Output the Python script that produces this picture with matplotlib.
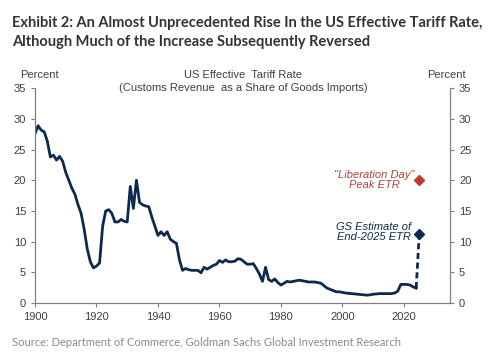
import numpy as np
import matplotlib
matplotlib.use('Agg')
import matplotlib.pyplot as plt

years = np.arange(1900, 2025)
etr = [27.6, 28.9, 28.2, 27.9, 26.4, 23.8, 24.1, 23.3, 23.9, 23.1,
       21.3, 20.0, 18.7, 17.7, 16.0, 14.6, 12.0, 8.8, 6.7, 5.7,
       6.0, 6.5, 12.5, 15.0, 15.2, 14.6, 13.2, 13.2, 13.6, 13.3,
       13.2, 19.0, 15.4, 20.0, 16.4, 16.0, 15.8, 15.7, 14.0, 12.5,
       11.0, 11.6, 11.0, 11.6, 10.4, 10.0, 9.7, 7.0, 5.3, 5.6,
       5.4, 5.3, 5.3, 5.3, 4.9, 5.8, 5.5, 5.8, 6.1, 6.3,
       6.9, 6.6, 7.0, 6.7, 6.7, 6.8, 7.2, 7.1, 6.7, 6.3,
       6.3, 6.4, 5.6, 4.7, 3.5, 5.8, 3.8, 3.5, 3.9, 3.3,
       2.9, 3.2, 3.5, 3.4, 3.5, 3.6, 3.7, 3.6, 3.5, 3.4,
       3.4, 3.4, 3.3, 3.2, 2.8, 2.4, 2.2, 2.0, 1.8, 1.8,
       1.7, 1.6, 1.55, 1.5, 1.45, 1.4, 1.35, 1.3, 1.25, 1.3,
       1.4, 1.45, 1.5, 1.5, 1.5, 1.5, 1.5, 1.6, 1.9, 3.0,
       3.0, 3.0, 2.9, 2.6, 2.4]

est_year = 2025
gs_estimate = 11.3
liberation_peak = 20.0

navy = '#0d2a4d'
red = '#b5403a'
gray = '#404040'

fig = plt.figure(figsize=(5, 3.55), dpi=100)
ax = fig.add_axes([0.07, 0.147, 0.83, 0.604])

ax.plot(years, etr, c=navy, lw=2.0, solid_joinstyle='round')
ax.plot([years[-1], est_year], [etr[-1], gs_estimate], c=navy, lw=2.0, ls=(0, (2.2, 1.3)))
ax.plot(est_year, gs_estimate, marker='D', ms=5.5, c=navy)
ax.plot(est_year, liberation_peak, marker='D', ms=5.5, c='#c0392b', mec='#c0392b')

ax.set_xlim(1900, 2035)
ax.set_ylim(0, 35)
ax.set_xticks(np.arange(1900, 2021, 20))
ax.set_yticks(np.arange(0, 36, 5))

ax2 = ax.twinx()
ax2.set_ylim(0, 35)
ax2.set_yticks(np.arange(0, 36, 5))

for a in (ax, ax2):
    for s in a.spines.values():
        s.set_color('#808080')
        s.set_linewidth(0.8)
    a.spines['top'].set_visible(False)
    a.tick_params(colors='#808080', labelcolor=gray, labelsize=8, length=3, width=0.8)
    for lab in a.get_xticklabels() + a.get_yticklabels():
        lab.set_family('Liberation Sans')

ax.text(2023.5, 20, '"Liberation Day"\nPeak ETR', color=red, style='italic',
        ha='right', va='center', multialignment='center', fontsize=8,
        family='Liberation Sans', linespacing=1.0)
ax.text(2022.5, 11.6, 'GS Estimate of\nEnd-2025 ETR', color=navy, style='italic',
        ha='right', va='center', multialignment='center', fontsize=8,
        family='Liberation Sans', linespacing=1.0)

fig.text(0.078, 0.79, 'Percent', fontsize=8, color=gray, ha='center', va='center', family='Liberation Sans')
fig.text(0.893, 0.79, 'Percent', fontsize=8, color=gray, ha='center', va='center', family='Liberation Sans')
fig.text(0.487, 0.789, 'US Effective  Tariff Rate', fontsize=8, color=gray, ha='center', va='center', family='Liberation Sans')
fig.text(0.487, 0.753, '(Customs Revenue  as a Share of Goods Imports)', fontsize=8, color=gray, ha='center', va='center', family='Liberation Sans')

fig.text(0.024, 0.955, 'Exhibit 2: An Almost Unprecedented Rise In the US Effective Tariff Rate,\nAlthough Much of the Increase Subsequently Reversed',
         fontsize=10.5, fontweight='bold', color='#333333', ha='left', va='top', family='Lato', linespacing=1.45)
fig.text(0.024, 0.036, 'Source: Department of Commerce, Goldman Sachs Global Investment Research',
         fontsize=8, color='#8a8a8a', ha='left', va='center', family='Lato')

fig.savefig('out.png', dpi=100, facecolor='white')
